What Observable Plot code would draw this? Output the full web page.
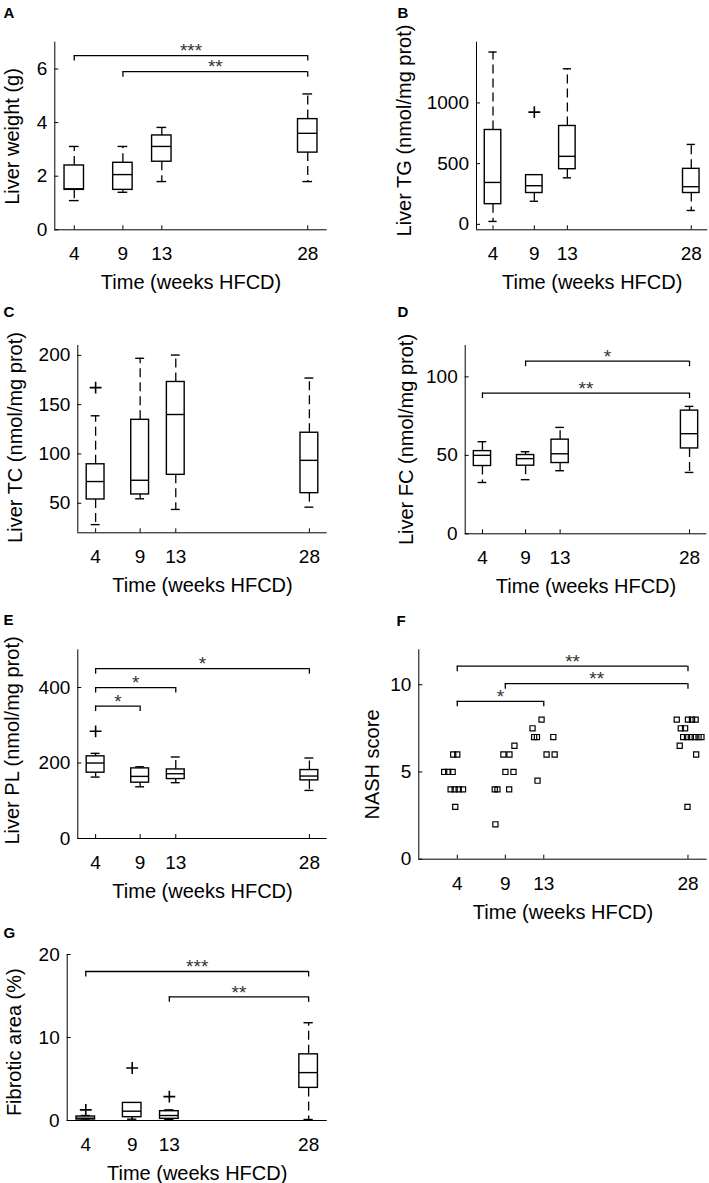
<!DOCTYPE html>
<html><head><meta charset="utf-8">
<script src="https://cdn.jsdelivr.net/npm/d3@7"></script>
<script src="https://cdn.jsdelivr.net/npm/@observablehq/plot@0.6"></script>
<style>
body{margin:0;background:#fff;}
#fig{position:relative;width:709px;height:1183px;overflow:hidden;background:#fff;}
#fig svg{position:absolute;overflow:visible;}
</style></head><body><div id="fig"></div>
<script>
// ---------- data ----------
const weeks = [4, 9, 13, 28];
const weekTicks = [4, 9, 13, 28];
const xTitle = "Time (weeks HFCD)";

// A: liver weight
const weightQ1 = [1.49, 1.49, 2.54, 2.88];
const weightMed = [1.53, 2.06, 3.11, 3.6];
const weightQ3 = [2.4, 2.5, 3.52, 4.13];
const weightLo = [1.09, 1.4, 1.8, 1.8];
const weightHi = [3.11, 3.11, 3.82, 5.07];
const weightOutWeek = [];
const weightOutVal = [];
const weightBrFrom = [4, 9];
const weightBrTo = [28, 28];
const weightBrLevel = [6.5, 5.9];
const weightBrStars = ["***", "**"];
const weightTicks = [0, 2, 4, 6];

// B: liver TG
const tgQ1 = [166, 258, 454, 258];
const tgMed = [345, 318, 560, 310];
const tgQ3 = [777, 405, 810, 457];
const tgLo = [24, 190, 383, 114];
const tgHi = [1419, 405, 1281, 658];
const tgOutWeek = [9];
const tgOutVal = [924];
const tgTicks = [0, 500, 1000];

// C: liver TC
const tcQ1 = [53.8, 58.9, 78.8, 60.2];
const tcMed = [72, 73.3, 140, 93.5];
const tcQ3 = [89.5, 134.6, 173, 121.5];
const tcLo = [28.3, 54.5, 43.7, 46];
const tcHi = [138.7, 197, 200.3, 177];
const tcOutWeek = [4];
const tcOutVal = [167.3];
const tcTicks = [50, 100, 150, 200];

// D: liver FC
const fcQ1 = [43.2, 43.4, 45.1, 54.4];
const fcMed = [50, 47.9, 51, 63.8];
const fcQ3 = [52.7, 50.2, 60, 78.5];
const fcLo = [32.7, 34.5, 40.2, 39.1];
const fcHi = [58.7, 52.3, 67.8, 81.2];
const fcBrFrom = [9, 4];
const fcBrTo = [28, 28];
const fcBrLevel = [110, 89.7];
const fcBrStars = ["*", "**"];
const fcTicks = [0, 50, 100];

// E: liver PL
const plQ1 = [174.4, 147.9, 157.5, 154];
const plMed = [200, 164.6, 171.6, 165.5];
const plQ3 = [217.7, 185.8, 183, 181.4];
const plLo = [162.8, 137, 147.9, 127.4];
const plHi = [225.6, 190, 216, 213.3];
const plOutWeek = [4];
const plOutVal = [284];
const plBrFrom = [4, 4, 4];
const plBrTo = [28, 13, 9];
const plBrLevel = [450, 400, 351];
const plBrStars = ["*", "*", "*"];
const plTicks = [0, 200, 400];

// F: NASH score (individual animals, jittered around the week)
const nashWeek = [2.64, 3.06, 3.52, 3.58, 4.0, 3.31, 3.73, 4.15, 4.6, 3.79,
  7.97, 7.9, 8.18, 9.4, 9.01, 9.85, 8.8, 9.43, 9.95,
  12.35, 11.83, 12.0, 12.29, 12.77, 13.29, 14.13, 13.99,
  26.83, 28.0, 28.42, 28.8, 27.25, 27.7, 27.14, 27.5, 27.9, 28.3, 28.7, 29.1, 29.4, 28.85, 27.95];
const nashScore = [5, 5, 5, 6, 6, 4, 4, 4, 4, 3,
  2, 4, 4, 4, 5, 5, 6, 6, 6.5,
  4.5, 7.5, 7, 7, 8, 6, 6, 7,
  8, 8, 8, 8, 7.5, 7.5, 6.5, 7, 7, 7, 7, 7, 7, 6, 3];
const nashBrFrom = [4, 9, 4];
const nashBrTo = [28, 28, 13];
const nashBrLevel = [11.06, 10.06, 9.05];
const nashBrStars = ["**", "**", "*"];
const nashTicks = [0, 5, 10];

// G: fibrotic area
const fibQ1 = [0.12, 0.4, 0.2, 3.93];
const fibMed = [0.28, 1.12, 0.6, 5.77];
const fibQ3 = [0.48, 2.12, 1.12, 7.97];
const fibLo = [0.05, 0.16, 0.1, 0.12];
const fibHi = [0.6, 2.12, 1.28, 11.78];
const fibOutWeek = [4, 9, 13];
const fibOutVal = [1.28, 6.33, 2.88];
const fibBrFrom = [4, 13];
const fibBrTo = [28, 28];
const fibBrLevel = [17.95, 14.9];
const fibBrStars = ["***", "**"];
const fibTicks = [0, 10, 20];

// ---------- helpers ----------
const boxRows = (q1, med, q3, lo, hi) => weeks.map((w, i) => ({week: w, q1: q1[i], med: med[i], q3: q3[i], lo: lo[i], hi: hi[i]}));
const pts = (xs, ys) => xs.map((x, i) => ({x, y: ys[i]}));
const brackets = (from, to, level, stars) => from.map((f, i) => ({from: f, to: to[i], level: level[i], stars: stars[i]}));

const HW = 1.0;     // half box width (weeks)
const CW = 0.5;     // half cap width
const FONT = "'Liberation Sans', Arial, Helvetica, sans-serif";
const fig = document.getElementById("fig");

function panel(p) {
  const [fx0, fy0, fx1, fy1] = p.frame;
  const ml = fx0 - p.left, mt = fy0 - p.top, mr = p.left + p.width - fx1, mb = p.top + p.height - fy1;
  const cy = (fy0 + fy1) / 2;
  const marks = [
    Plot.ruleY([p.yDomain[0]], {stroke: "#000", strokeWidth: 1}),
    Plot.ruleX([p.xDomain[0]], {stroke: "#000", strokeWidth: 1}),
    Plot.axisX({ticks: weekTicks, tickSize: -4, tickPadding: 21, tickFormat: d => String(d), label: null, fontSize: 19}),
    Plot.axisY({ticks: p.yTicks, tickSize: -4, tickPadding: 11.5, tickFormat: d => String(d), label: null, fontSize: 19})
  ];
  if (p.boxes) {
    const b = p.boxes;
    const dash = {stroke: "#000", strokeWidth: 1.3, strokeDasharray: "9,5"};
    marks.push(
      Plot.ruleX(b, {x: "week", y1: "q3", y2: "hi", ...dash}),
      Plot.ruleX(b, {x: "week", y1: "q1", y2: "lo", ...dash}),
      Plot.ruleY(b, {y: "hi", x1: d => d.week - CW, x2: d => d.week + CW, stroke: "#000", strokeWidth: 1.4}),
      Plot.ruleY(b, {y: "lo", x1: d => d.week - CW, x2: d => d.week + CW, stroke: "#000", strokeWidth: 1.4}),
      Plot.rect(b, {x1: d => d.week - HW, x2: d => d.week + HW, y1: "q1", y2: "q3", fill: "white", stroke: "#000", strokeWidth: 1.4}),
      Plot.ruleY(b, {y: "med", x1: d => d.week - HW, x2: d => d.week + HW, stroke: "#000", strokeWidth: 1.4})
    );
  }
  if (p.outliers && p.outliers.length) {
    marks.push(Plot.dot(p.outliers, {x: "x", y: "y", symbol: "plus", r: 3.9, stroke: "#000", strokeWidth: 1.6}));
  }
  if (p.points) {
    marks.push(Plot.dot(p.points, {x: "x", y: "y", symbol: "square", r: 2.9, stroke: "#000", fill: "none", strokeWidth: 1.2}));
  }
  if (p.brackets) {
    const br = p.brackets;
    const ends = br.flatMap(d => [{x: d.from, level: d.level}, {x: d.to, level: d.level}]);
    marks.push(
      Plot.ruleY(br, {y: "level", x1: "from", x2: "to", stroke: "#000", strokeWidth: 1.3}),
      Plot.ruleX(ends, {x: "x", y1: "level", y2: "level", insetBottom: -5.5, stroke: "#000", strokeWidth: 1.3}),
      Plot.text(br, {x: d => (d.from + d.to) / 2, y: "level", text: "stars", dy: -4.3, lineAnchor: "middle", fontSize: 19, fill: "#333"})
    );
  }
  marks.push(
    Plot.text([xTitle], {frameAnchor: "bottom", text: d => d, dy: 53, lineAnchor: "middle", fontSize: 20}),
    Plot.text([p.yTitle], {frameAnchor: "left", text: d => d, rotate: -90, dx: p.yTitleX - fx0, dy: p.yTitleY - cy, lineAnchor: "middle", textAnchor: "middle", fontSize: 20}),
    Plot.text([p.letter], {frameAnchor: "top-left", text: d => d, dx: p.letterX - fx0, dy: p.letterY - fy0, textAnchor: "start", lineAnchor: "middle", fontSize: 15, fontWeight: "bold"})
  );
  const svg = Plot.plot({
    width: p.width, height: p.height,
    marginLeft: ml, marginRight: mr, marginTop: mt, marginBottom: mb,
    x: {domain: p.xDomain},
    y: {domain: p.yDomain},
    style: {fontFamily: FONT, fontSize: "19px", color: "#000", background: "transparent", overflow: "visible"},
    marks
  });
  svg.style.left = p.left + "px";
  svg.style.top = p.top + "px";
  fig.appendChild(svg);
}

// ---------- layout ----------
panel({left: 0, top: 0, width: 354, height: 300, frame: [54.3, 41.7, 326.7, 229.3],
  xDomain: [2, 30], yDomain: [0, 7], yTicks: weightTicks,
  boxes: boxRows(weightQ1, weightMed, weightQ3, weightLo, weightHi), outliers: pts(weightOutWeek, weightOutVal),
  brackets: brackets(weightBrFrom, weightBrTo, weightBrLevel, weightBrStars),
  yTitle: "Liver weight (g)", yTitleX: 12.5, yTitleY: 136, letter: "A", letterX: 3, letterY: 13});

panel({left: 354, top: 0, width: 355, height: 300, frame: [476, 41.7, 707.3, 229.3],
  xDomain: [2, 30], yDomain: [-45, 1500], yTicks: tgTicks,
  boxes: boxRows(tgQ1, tgMed, tgQ3, tgLo, tgHi), outliers: pts(tgOutWeek, tgOutVal),
  yTitle: "Liver TG (nmol/mg prot)", yTitleX: 404.5, yTitleY: 130, letter: "B", letterX: 397, letterY: 12.5});

panel({left: 0, top: 300, width: 354, height: 300, frame: [77.3, 345, 326.7, 532.3],
  xDomain: [2, 30], yDomain: [20, 210], yTicks: tcTicks,
  boxes: boxRows(tcQ1, tcMed, tcQ3, tcLo, tcHi), outliers: pts(tcOutWeek, tcOutVal),
  yTitle: "Liver TC (nmol/mg prot)", yTitleX: 15, yTitleY: 437, letter: "C", letterX: 3, letterY: 312});

panel({left: 354, top: 300, width: 355, height: 300, frame: [464.7, 345, 706.3, 533.3],
  xDomain: [2, 30], yDomain: [0, 120], yTicks: fcTicks,
  boxes: boxRows(fcQ1, fcMed, fcQ3, fcLo, fcHi),
  brackets: brackets(fcBrFrom, fcBrTo, fcBrLevel, fcBrStars),
  yTitle: "Liver FC (nmol/mg prot)", yTitleX: 405.7, yTitleY: 439, letter: "D", letterX: 397, letterY: 312});

panel({left: 0, top: 600, width: 354, height: 300, frame: [77.3, 649.3, 326.7, 838],
  xDomain: [2, 30], yDomain: [0, 500], yTicks: plTicks,
  boxes: boxRows(plQ1, plMed, plQ3, plLo, plHi), outliers: pts(plOutWeek, plOutVal),
  brackets: brackets(plBrFrom, plBrTo, plBrLevel, plBrStars),
  yTitle: "Liver PL (nmol/mg prot)", yTitleX: 12.5, yTitleY: 740, letter: "E", letterX: 3, letterY: 620});

panel({left: 354, top: 600, width: 355, height: 330, frame: [418.3, 649.3, 706.7, 858.7],
  xDomain: [0, 30], yDomain: [0, 12], yTicks: nashTicks,
  points: pts(nashWeek, nashScore),
  brackets: brackets(nashBrFrom, nashBrTo, nashBrLevel, nashBrStars),
  yTitle: "NASH score", yTitleX: 371.7, yTitleY: 764, letter: "F", letterX: 396, letterY: 621});

panel({left: 0, top: 900, width: 354, height: 283, frame: [66.7, 954, 326.7, 1120],
  xDomain: [2, 30], yDomain: [0, 20], yTicks: fibTicks,
  boxes: boxRows(fibQ1, fibMed, fibQ3, fibLo, fibHi), outliers: pts(fibOutWeek, fibOutVal),
  brackets: brackets(fibBrFrom, fibBrTo, fibBrLevel, fibBrStars),
  yTitle: "Fibrotic area (%)", yTitleX: 14, yTitleY: 1041.7, letter: "G", letterX: 3, letterY: 933});
</script>
</body></html>
